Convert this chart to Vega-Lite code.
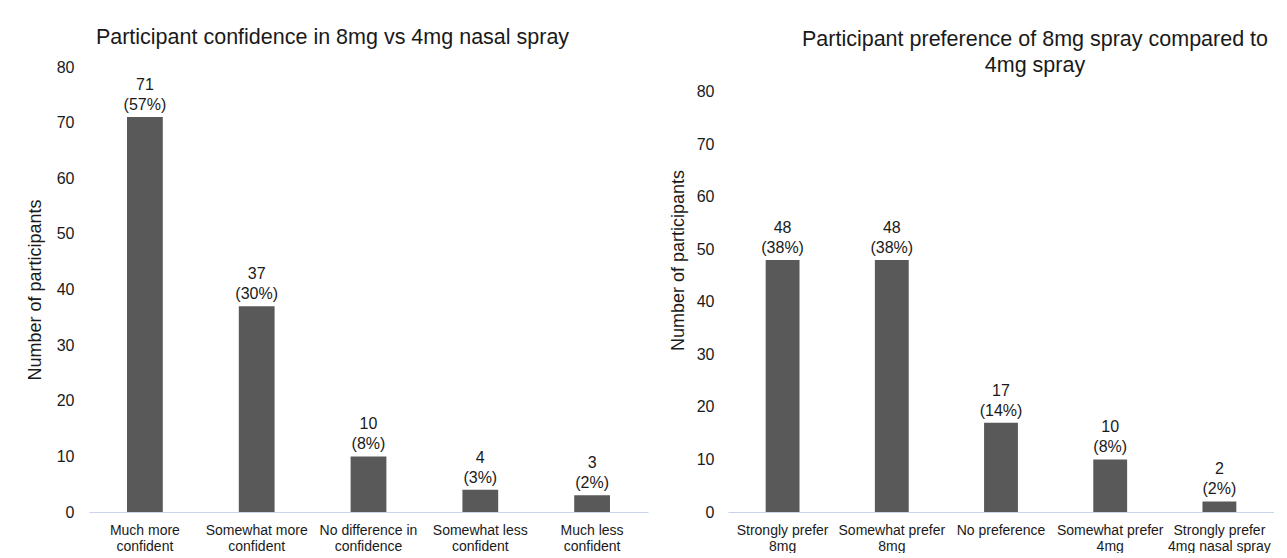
{
  "$schema": "https://vega.github.io/schema/vega-lite/v6.json",
  "background": "white",
  "padding": {"left": 26, "top": 26, "right": 0, "bottom": 0},
  "spacing": 21,
  "config": {
    "font": "Liberation Sans",
    "view": {"stroke": null},
    "axis": {
      "labelFont": "Liberation Sans",
      "titleFont": "Liberation Sans",
      "labelColor": "#1a1a1a",
      "titleColor": "#1a1a1a",
      "titleFontWeight": "normal",
      "grid": false,
      "ticks": false,
      "tickSize": 0
    },
    "axisX": {
      "domainColor": "#c8d4ea",
      "domainWidth": 1.2,
      "labelAngle": 0,
      "labelFontSize": 14,
      "labelLineHeight": 16,
      "labelPadding": 11,
      "title": null
    },
    "axisY": {
      "domain": false,
      "labelFontSize": 16,
      "titleFontSize": 18
    },
    "title": {
      "font": "Liberation Sans",
      "fontSize": 21.5,
      "fontWeight": "normal",
      "color": "#1a1a1a",
      "anchor": "middle",
      "frame": "group",
      "baseline": "alphabetic",
      "lineHeight": 26
    },
    "text": {"font": "Liberation Sans", "fontSize": 16, "color": "#1a1a1a"}
  },
  "hconcat": [
    {
      "title": {"text": "Participant confidence in 8mg vs 4mg nasal spray", "dx": -36, "offset": 11},
      "width": 559,
      "height": 445,
      "data": {
        "values": [
          {"response": "Much more\nconfident", "count": 71, "pct": "(57%)"},
          {"response": "Somewhat more\nconfident", "count": 37, "pct": "(30%)"},
          {"response": "No difference in\nconfidence", "count": 10, "pct": "(8%)"},
          {"response": "Somewhat less\nconfident", "count": 4, "pct": "(3%)"},
          {"response": "Much less\nconfident", "count": 3, "pct": "(2%)"}
        ]
      },
      "encoding": {
        "x": {
          "field": "response",
          "type": "nominal",
          "sort": null,
          "scale": {"paddingInner": 0.68, "paddingOuter": 0.34},
          "axis": {"labelExpr": "split(datum.label, '\\n')"}
        },
        "y": {
          "field": "count",
          "type": "quantitative",
          "scale": {"domain": [0, 80]},
          "axis": {
            "title": "Number of participants",
            "values": [0, 10, 20, 30, 40, 50, 60, 70, 80],
            "labelPadding": 15,
            "titlePadding": 12
          }
        }
      },
      "layer": [
        {"mark": {"type": "bar", "color": "#595959"}},
        {"mark": {"type": "text", "baseline": "bottom", "dy": -24}, "encoding": {"text": {"field": "count", "type": "quantitative"}}},
        {"mark": {"type": "text", "baseline": "bottom", "dy": -4}, "encoding": {"text": {"field": "pct", "type": "nominal"}}}
      ]
    },
    {
      "title": {"text": ["Participant preference of 8mg spray compared to", "4mg spray"], "dx": 34, "offset": -9},
      "width": 546,
      "height": 445,
      "data": {
        "values": [
          {"response": "Strongly prefer\n8mg", "count": 48, "pct": "(38%)"},
          {"response": "Somewhat prefer\n8mg", "count": 48, "pct": "(38%)"},
          {"response": "No preference", "count": 17, "pct": "(14%)"},
          {"response": "Somewhat prefer\n4mg", "count": 10, "pct": "(8%)"},
          {"response": "Strongly prefer\n4mg nasal spray", "count": 2, "pct": "(2%)"}
        ]
      },
      "encoding": {
        "x": {
          "field": "response",
          "type": "nominal",
          "sort": null,
          "scale": {"paddingInner": 0.69, "paddingOuter": 0.345},
          "axis": {"labelExpr": "split(datum.label, '\\n')"}
        },
        "y": {
          "field": "count",
          "type": "quantitative",
          "scale": {"domain": [0, 84.76], "nice": false},
          "axis": {
            "title": "Number of participants",
            "values": [0, 10, 20, 30, 40, 50, 60, 70, 80],
            "labelPadding": 14,
            "titlePadding": 9,
            "titleY": 193
          }
        }
      },
      "layer": [
        {"mark": {"type": "bar", "color": "#595959"}},
        {"mark": {"type": "text", "baseline": "bottom", "dy": -24}, "encoding": {"text": {"field": "count", "type": "quantitative"}}},
        {"mark": {"type": "text", "baseline": "bottom", "dy": -4}, "encoding": {"text": {"field": "pct", "type": "nominal"}}}
      ]
    }
  ]
}
